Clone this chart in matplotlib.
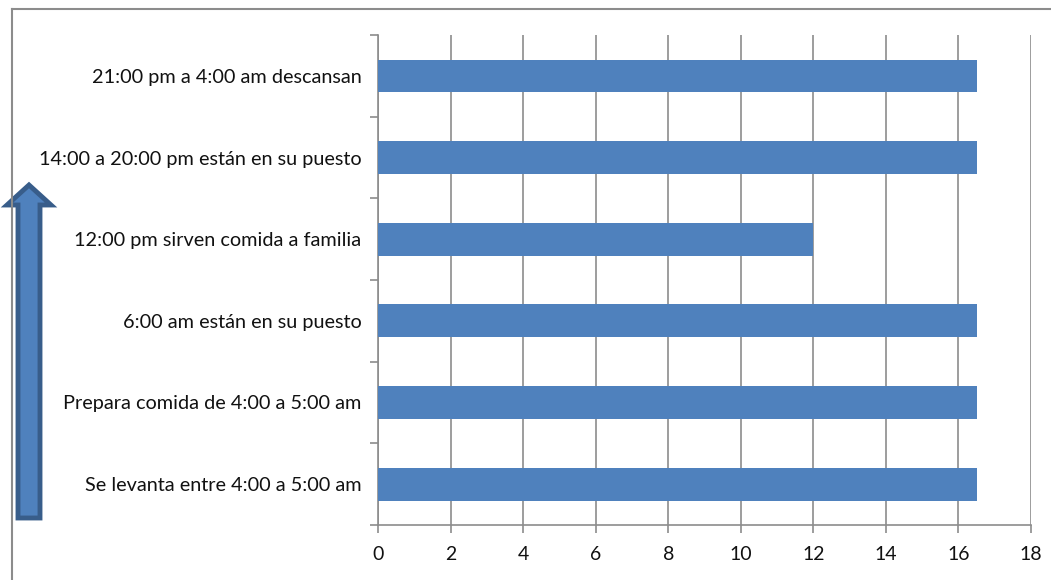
import numpy as np
import matplotlib.pyplot as plt
from matplotlib.patches import Polygon
from matplotlib.lines import Line2D

# Daily routine, listed bottom to top
activities = ['Se levanta entre 4:00 a 5:00 am',
              'Prepara comida de 4:00 a 5:00 am',
              '6:00 am están en su puesto',
              '12:00 pm sirven comida a familia',
              '14:00 a 20:00 pm están en su puesto',
              '21:00 pm a 4:00 am descansan']
hours = [16.5, 16.5, 16.5, 12, 16.5, 16.5]
xticks = [0, 2, 4, 6, 8, 10, 12, 14, 16, 18]

W, H = 1051, 580
bar_color = '#4F81BD'
grid_color = '#8C8C8C'

plt.rcParams['font.family'] = ['Lato', 'DejaVu Sans']

fig = plt.figure(figsize=(W / 100, H / 100), dpi=100)
ax = fig.add_axes([378 / W, 1 - 525 / H, (1031 - 378) / W, (525 - 35) / H])

y = np.arange(len(activities))
ax.barh(y, hours, height=0.4, color=bar_color, zorder=3)

ax.set_xlim(0, 18)
ax.set_ylim(-0.5, len(activities) - 0.5)
ax.set_xticks(xticks)
ax.set_xticklabels([str(t) for t in xticks], fontsize=14)
ax.set_yticks(y)
ax.set_yticklabels(activities, fontsize=14.3)
ax.set_yticks(np.arange(len(activities) + 1) - 0.5, minor=True)
ax.tick_params(axis='y', which='major', length=0, pad=12)
ax.tick_params(axis='y', which='minor', length=6, width=1.2, color=grid_color)
ax.tick_params(axis='x', length=6, width=1.2, color=grid_color, pad=9)
ax.tick_params(labelcolor='#111111')
ax.xaxis.grid(True, color=grid_color, linewidth=1.2, zorder=0)

for side in ['top', 'right']:
    ax.spines[side].set_visible(False)
for side in ['left', 'bottom']:
    ax.spines[side].set_color(grid_color)
    ax.spines[side].set_linewidth(1.2)

# outer chart frame (top and left edges)
fig.add_artist(Line2D([12 / W, 12 / W], [0, 1 - 9 / H], color='#8C8C8C', linewidth=1.5))
fig.add_artist(Line2D([12 / W, 1], [1 - 9 / H, 1 - 9 / H], color='#8C8C8C', linewidth=1.5))

# upward block arrow on the left
pts = [(18, 518), (40, 518), (40, 205), (51, 205), (29, 185), (7, 205), (18, 205)]
arrow = Polygon([(px / W, 1 - py / H) for px, py in pts], closed=True,
                facecolor=bar_color, edgecolor='#385D8A', linewidth=3.5,
                joinstyle='miter', transform=fig.transFigure)
fig.add_artist(arrow)

fig.savefig('out.png', dpi=100)
